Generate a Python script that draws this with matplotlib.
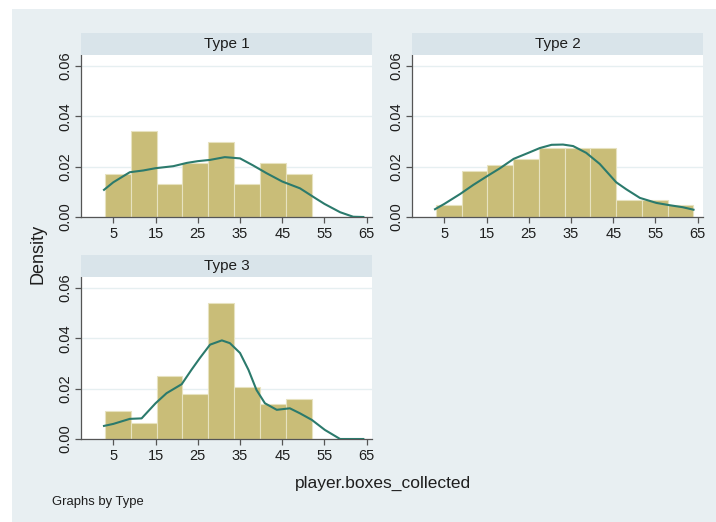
import numpy as np
import matplotlib
matplotlib.use("Agg")
import matplotlib.pyplot as plt
from matplotlib.patches import Rectangle

plt.rcParams['font.family'] = ['Liberation Sans', 'DejaVu Sans']

# histogram densities
t1_range = (3, 52)
t1_dens = [0.0171, 0.0341, 0.0133, 0.0215, 0.0298, 0.0133, 0.0215, 0.0171]
t2_range = (3, 64)
t2_dens = [0.0049, 0.0181, 0.0205, 0.0231, 0.0274, 0.0274, 0.0274, 0.0069, 0.0069, 0.0049]
t3_range = (3, 52)
t3_dens = [0.0112, 0.0064, 0.0249, 0.0179, 0.0541, 0.0205, 0.0138, 0.0160]

# kernel density curves
k1_x = [2.8, 5, 8.9, 12.1, 15, 19.2, 22.4, 25, 27.9, 31.4, 35, 38.1, 41.3, 45, 49.2, 53.1, 55, 58.7, 61.8, 64.2]
k1_y = [0.0108, 0.0138, 0.0178, 0.0185, 0.0194, 0.0202, 0.0215, 0.0222, 0.0227, 0.0238, 0.0233, 0.0205,
        0.0174, 0.0141, 0.0114, 0.0072, 0.0052, 0.0019, 0.0001, 0.0]
k2_x = [2.8, 5, 8.8, 11.9, 15.1, 18.2, 21.4, 24.9, 27.6, 30.4, 33.1, 35.5, 38.6, 41.8, 45.7, 48.1, 51.3,
        55.2, 58.3, 61.4, 64]
k2_y = [0.0031, 0.0052, 0.0092, 0.0128, 0.0162, 0.0194, 0.0231, 0.0255, 0.0274, 0.0287, 0.0288, 0.0282,
        0.0255, 0.0211, 0.0138, 0.0110, 0.0076, 0.0056, 0.0047, 0.0039, 0.0029]
k3_x = [2.8, 5, 8.9, 11.7, 15, 17.6, 21.2, 23.5, 25.5, 27.9, 30.7, 32.6, 35, 37, 38.9, 40.9, 43.7, 46.8,
        49.2, 52, 55.1, 58.7, 64.2]
k3_y = [0.0052, 0.0060, 0.0080, 0.0082, 0.0142, 0.0182, 0.0218, 0.0275, 0.0322, 0.0375, 0.0392, 0.0381,
        0.0342, 0.0275, 0.0195, 0.0142, 0.0116, 0.0122, 0.0102, 0.0076, 0.0036, 0.0, 0.0]

titles = ['Type 1', 'Type 2', 'Type 3']
xticks = [5, 15, 25, 35, 45, 55, 65]
yticks = [0.0, 0.02, 0.04, 0.06]

W, H = 716, 522
bg = '#e8eff2'
strip_col = '#d9e4ea'
bar_col = '#c9bd78'
line_col = '#2b7a6c'
text_col = '#1e1e1e'

fig = plt.figure(figsize=(W / 100, H / 100), dpi=100, facecolor='white')
fig.patches.append(Rectangle((12 / W, 0), 1 - 12 / W, (H - 9) / H, transform=fig.transFigure,
                             facecolor=bg, edgecolor='none', zorder=-10))


def px(x0, y0, x1, y1):
    return [x0 / W, 1 - y1 / H, (x1 - x0) / W, (y1 - y0) / H]


# (plot left, plot top, plot right, plot bottom, strip top)
boxes = [(81, 55, 372, 217, 33), (412, 55, 703, 217, 33), (81, 277, 372, 439, 255)]
data = [(t1_range, t1_dens, k1_x, k1_y), (t2_range, t2_dens, k2_x, k2_y), (t3_range, t3_dens, k3_x, k3_y)]

for (x0, y0, x1, y1, st), (rng, dens, kx, ky), title in zip(boxes, data, titles):
    ax = fig.add_axes(px(x0, y0, x1, y1))
    ax.set_facecolor('white')
    edges = np.linspace(rng[0], rng[1], len(dens) + 1)
    ax.bar(edges[:-1], dens, width=np.diff(edges), align='edge', color=bar_col,
           edgecolor='#e7e2c0', linewidth=0.8, zorder=2)
    ax.plot(kx, ky, color=line_col, lw=1.5, zorder=3)
    ax.set_xlim(-2.65, 66.25)
    ax.set_ylim(0, 0.0644)
    ax.set_xticks(xticks)
    ax.set_yticks(yticks)
    ax.set_yticklabels(['%.2f' % v for v in yticks], rotation=90, va='center')
    ax.grid(axis='y', color='#e6eff1', lw=1.0, zorder=0)
    ax.set_axisbelow(True)
    for s in ['top', 'right']:
        ax.spines[s].set_visible(False)
    for s in ['left', 'bottom']:
        ax.spines[s].set_color('#555555')
        ax.spines[s].set_linewidth(0.9)
    ax.tick_params(axis='both', colors='#555555', labelcolor=text_col, labelsize=10.5, length=4, width=0.9)
    ax.tick_params(axis='y', pad=2)
    ax.tick_params(axis='x', pad=3)

    sax = fig.add_axes(px(x0, st, x1, y0))
    sax.set_facecolor(strip_col)
    sax.set_xticks([])
    sax.set_yticks([])
    for s in sax.spines.values():
        s.set_visible(False)
    sax.text(0.5, 0.5, title, ha='center', va='center', fontsize=11, color=text_col,
             transform=sax.transAxes)

fig.text(38 / W, 1 - 254 / H, 'Density', rotation=90, ha='center', va='center', fontsize=13, color=text_col)
fig.text(383 / W, 1 - 483 / H, 'player.boxes_collected', ha='center', va='center', fontsize=12.5, color=text_col)
fig.text(52 / W, 1 - 502 / H, 'Graphs by Type', ha='left', va='center', fontsize=9.4, color=text_col)

fig.savefig('out.png', dpi=100, facecolor='white')
